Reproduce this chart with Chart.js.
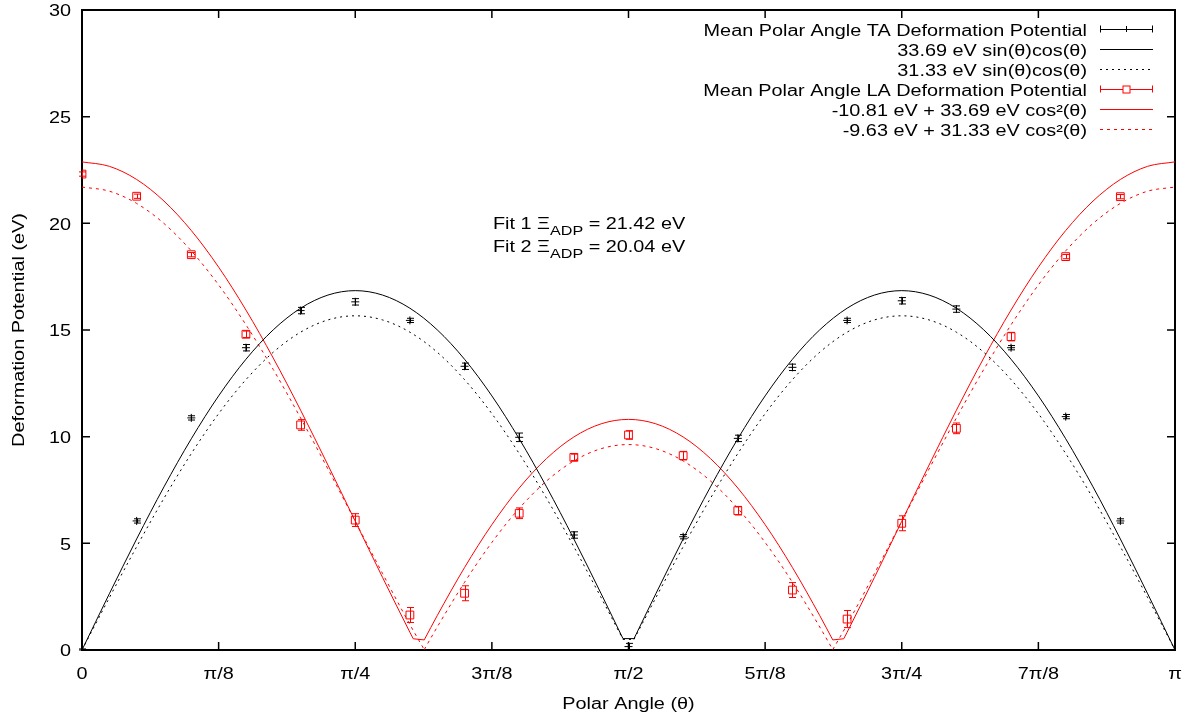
<!DOCTYPE html>
<html>
<head>
<meta charset="utf-8">
<script src="https://cdn.jsdelivr.net/npm/chart.js@4/dist/chart.umd.min.js"></script>
<style>
  html, body { margin: 0; padding: 0; background: #fff; }
  #c { display: block; }
</style>
</head>
<body>
<canvas id="c" width="1194" height="720"></canvas>
<script>
// ---------------- data (angles in degrees, 180 = π) ----------------
const xTickLabels = ['0', 'π/8', 'π/4', '3π/8', 'π/2', '5π/8', '3π/4', '7π/8', 'π'];
const yTickLabels = ['0', '5', '10', '15', '20', '25', '30'];

const dataAngles = [0, 9, 18, 27, 36, 45, 54, 63, 72, 81, 90, 99, 108, 117, 126, 135, 144, 153, 162, 171];
const taMean = [0.00, 6.05, 10.88, 14.17, 15.91, 16.32, 15.45, 13.30, 9.97, 5.39, 0.16, 5.31, 9.92, 13.25, 15.45, 16.37, 15.98, 14.17, 10.94, 6.05];
const taErr  = [0.05, 0.10, 0.10, 0.15, 0.15, 0.15, 0.10, 0.15, 0.20, 0.15, 0.15, 0.10, 0.15, 0.15, 0.10, 0.15, 0.15, 0.10, 0.10, 0.10];
const laMean = [22.31, 21.27, 18.53, 14.80, 10.55, 6.09, 1.64, 2.66, 6.41, 9.03, 10.08, 9.11, 6.53, 2.81, 1.45, 5.94, 10.39, 14.69, 18.44, 21.25];
const laErr  = [0.10, 0.10, 0.10, 0.15, 0.25, 0.30, 0.35, 0.35, 0.25, 0.15, 0.20, 0.20, 0.20, 0.35, 0.40, 0.35, 0.25, 0.20, 0.10, 0.10];

const taFitAngles = [0, 4.5, 9, 13.5, 18, 22.5, 27, 31.5, 36, 40.5, 45, 49.5, 54, 58.5, 63, 67.5, 72, 76.5, 81, 85.5, 89.09, 90.91, 94.5, 99, 103.5, 108, 112.5, 117, 121.5, 126, 130.5, 135, 139.5, 144, 148.5, 153, 157.5, 162, 166.5, 171, 175.5, 180];
const taFit1 = [0, 2.635, 5.205, 7.647, 9.901, 11.911, 13.628, 15.009, 16.021, 16.638, 16.845, 16.638, 16.021, 15.009, 13.628, 11.911, 9.901, 7.647, 5.205, 2.635, 0.534, 0.534, 2.635, 5.205, 7.647, 9.901, 11.911, 13.628, 15.009, 16.021, 16.638, 16.845, 16.638, 16.021, 15.009, 13.628, 11.911, 9.901, 7.647, 5.205, 2.635, 0];
const taFit2 = [0, 2.450, 4.841, 7.112, 9.208, 11.077, 12.673, 13.958, 14.898, 15.472, 15.665, 15.472, 14.898, 13.958, 12.673, 11.077, 9.208, 7.112, 4.841, 2.450, 0.497, 0.497, 2.450, 4.841, 7.112, 9.208, 11.077, 12.673, 13.958, 14.898, 15.472, 15.665, 15.472, 14.898, 13.958, 12.673, 11.077, 9.208, 7.112, 4.841, 2.450, 0];
const taFitCorners = [89.09, 90.91];

const laFit1Angles = [0, 4.5, 9, 13.5, 18, 22.5, 27, 31.5, 36, 40.5, 45, 49.5, 54, 54.55, 56.36, 58.5, 63, 67.5, 72, 76.5, 81, 85.5, 90, 94.5, 99, 103.5, 108, 112.5, 117, 121.5, 123.64, 125.45, 126, 130.5, 135, 139.5, 144, 148.5, 153, 157.5, 162, 166.5, 171, 175.5, 180];
const laFit1 = [22.880, 22.673, 22.056, 21.044, 19.663, 17.946, 15.936, 13.682, 11.240, 8.670, 6.035, 3.400, 0.830, 0.526, 0.473, 1.612, 3.866, 5.876, 7.593, 8.974, 9.986, 10.603, 10.810, 10.603, 9.986, 8.974, 7.593, 5.876, 3.866, 1.612, 0.473, 0.526, 0.830, 3.400, 6.035, 8.670, 11.240, 13.682, 15.936, 17.946, 19.663, 21.044, 22.056, 22.673, 22.880];
const laFit1Corners = [54.55, 56.36, 123.64, 125.45];
const laFit2Angles = [0, 4.5, 9, 13.5, 18, 22.5, 27, 31.5, 36, 40.5, 45, 49.5, 54, 56.36, 58.5, 63, 67.5, 72, 76.5, 81, 85.5, 90, 94.5, 99, 103.5, 108, 112.5, 117, 121.5, 123.64, 126, 130.5, 135, 139.5, 144, 148.5, 153, 157.5, 162, 166.5, 171, 175.5, 180];
const laFit2 = [21.700, 21.507, 20.933, 19.993, 18.708, 17.112, 15.243, 13.147, 10.876, 8.485, 6.035, 3.585, 1.194, 0.017, 1.077, 3.173, 5.042, 6.638, 7.923, 8.863, 9.437, 9.630, 9.437, 8.863, 7.923, 6.638, 5.042, 3.173, 1.077, 0.017, 1.194, 3.585, 6.035, 8.485, 10.876, 13.147, 15.243, 17.112, 18.708, 19.993, 20.933, 21.507, 21.700];
const laFit2Corners = [56.36, 123.64];

const legendLabels = [
  'Mean Polar Angle TA Deformation Potential',
  '33.69 eV sin(θ)cos(θ)',
  '31.33 eV sin(θ)cos(θ)',
  'Mean Polar Angle LA Deformation Potential',
  '-10.81 eV + 33.69 eV cos²(θ)',
  '-9.63 eV + 31.33 eV cos²(θ)'
];
const fitLabels = [['Fit 1 Ξ', 'ADP', ' = 21.42 eV'], ['Fit 2 Ξ', 'ADP', ' = 20.04 eV']];

// ---------------- text stretch (reference glyphs are drawn wide) ----------------
const SX = 1.24;
const origFillText = CanvasRenderingContext2D.prototype.fillText;
CanvasRenderingContext2D.prototype.fillText = function (text, x, y, maxWidth) {
  this.save();
  this.translate(x, y);
  this.scale(SX, 1);
  if (maxWidth === undefined || maxWidth === null) origFillText.call(this, text, 0, 0);
  else origFillText.call(this, text, 0, 0, maxWidth / SX);
  this.restore();
};

const FONT = '"Liberation Sans", Arial, Helvetica, sans-serif';
Chart.defaults.font.family = FONT;
Chart.defaults.font.size = 16;
Chart.defaults.color = '#000';

const RED = '#ff0000';
const BLACK = '#000000';
const pts = (xs, ys) => xs.map((v, i) => ({ x: v, y: ys[i] }));
// curve points; the smooth line is broken (zero-length gap) at sharp corners
function curvePts(xs, ys, corners) {
  const out = [];
  xs.forEach((v, i) => {
    out.push({ x: v, y: ys[i] });
    if (corners.includes(v)) {
      out.push({ x: v, y: null });
      out.push({ x: v, y: ys[i] });
    }
  });
  return out;
}

// ---------------- plugins ----------------
const frameTicks = {
  id: 'frameTicks',
  beforeDatasetsDraw(chart) {
    const { ctx, chartArea: a, scales: { x, y } } = chart;
    ctx.save();
    ctx.strokeStyle = BLACK;
    ctx.lineWidth = 1.5;
    ctx.beginPath();
    x.ticks.forEach((t, i) => {
      const px = x.getPixelForTick(i);
      ctx.moveTo(px, a.bottom); ctx.lineTo(px, a.bottom - 8);
      ctx.moveTo(px, a.top); ctx.lineTo(px, a.top + 8);
    });
    y.ticks.forEach((t, i) => {
      const py = y.getPixelForTick(i);
      ctx.moveTo(a.left, py); ctx.lineTo(a.left + 8, py);
      ctx.moveTo(a.right, py); ctx.lineTo(a.right - 8, py);
    });
    ctx.stroke();
    ctx.lineWidth = 2;
    ctx.strokeRect(a.left, a.top, a.right - a.left, a.bottom - a.top);
    ctx.restore();
  }
};

const errorBars = {
  id: 'errorBars',
  afterDatasetsDraw(chart) {
    const { ctx, scales: { x, y } } = chart;
    ctx.save();
    chart.data.datasets.forEach((ds) => {
      if (!ds.errors) return;
      ctx.strokeStyle = ds.borderColor;
      ctx.lineWidth = 1;
      ctx.beginPath();
      ds.data.forEach((p, i) => {
        const e = ds.errors[i];
        const px = Math.round(x.getPixelForValue(p.x)) + 0.5;
        const yt = y.getPixelForValue(p.y + e);
        const yb = y.getPixelForValue(Math.max(0, p.y - e));
        ctx.moveTo(px, yt); ctx.lineTo(px, yb);
        ctx.moveTo(px - 3.5, yt); ctx.lineTo(px + 3.5, yt);
        ctx.moveTo(px - 3.5, yb); ctx.lineTo(px + 3.5, yb);
      });
      ctx.stroke();
    });
    ctx.restore();
  }
};

const keyAndLabel = {
  id: 'keyAndLabel',
  afterDraw(chart) {
    const { ctx, chartArea: a } = chart;
    ctx.save();
    ctx.font = '16px ' + FONT;
    ctx.textBaseline = 'alphabetic';
    const textRight = a.right - 88;
    const x1 = a.right - 75, x2 = a.right - 22, xm = (x1 + x2) / 2;
    legendLabels.forEach((label, i) => {
      const ds = chart.data.datasets[i];
      const yc = a.top + 19 + 20 * i;
      ctx.fillStyle = BLACK;
      ctx.textAlign = 'right';
      ctx.fillText(label, textRight, yc + 7);
      ctx.strokeStyle = ds.borderColor;
      ctx.lineWidth = 1;
      ctx.setLineDash(ds.borderDash || []);
      ctx.beginPath();
      ctx.moveTo(x1, yc + 0.5); ctx.lineTo(x2, yc + 0.5);
      ctx.stroke();
      ctx.setLineDash([]);
      if (ds.errors) {
        ctx.beginPath();
        ctx.moveTo(x1 + 0.5, yc - 3.5); ctx.lineTo(x1 + 0.5, yc + 3.5);
        ctx.moveTo(x2 - 0.5, yc - 3.5); ctx.lineTo(x2 - 0.5, yc + 3.5);
        if (ds.pointStyle === 'cross') {
          ctx.moveTo(xm, yc - 3); ctx.lineTo(xm, yc + 3);
        }
        ctx.stroke();
        if (ds.pointStyle === 'rect') {
          ctx.fillStyle = '#fff';
          ctx.fillRect(xm - 3.5, yc - 3, 7, 7);
          ctx.strokeRect(xm - 3.5, yc - 3, 7, 7);
        }
      }
    });
    // Fit annotation
    const lx = a.left + 411;
    const baselines = [a.top + 219.3, a.top + 242.3];
    ctx.textAlign = 'left';
    ctx.fillStyle = BLACK;
    fitLabels.forEach((parts, i) => {
      let cx = lx;
      const by = baselines[i];
      ctx.font = '16px ' + FONT;
      ctx.fillText(parts[0], cx, by);
      cx += ctx.measureText(parts[0]).width * SX;
      ctx.font = '13px ' + FONT;
      ctx.fillText(parts[1], cx, by + 6);
      cx += ctx.measureText(parts[1]).width * SX;
      ctx.font = '16px ' + FONT;
      ctx.fillText(parts[2], cx, by);
    });
    ctx.restore();
  }
};

const curveStyle = { borderWidth: 1, pointRadius: 0, cubicInterpolationMode: 'monotone', spanGaps: false };

// ---------------- chart ----------------
new Chart(document.getElementById('c'), {
  type: 'line',
  data: {
    datasets: [
      {
        label: legendLabels[0], data: pts(dataAngles, taMean), errors: taErr,
        showLine: false, pointStyle: 'cross', pointRadius: 4, pointBorderWidth: 1,
        borderColor: BLACK, backgroundColor: BLACK, order: 1
      },
      Object.assign({ label: legendLabels[1], data: curvePts(taFitAngles, taFit1, taFitCorners), borderColor: BLACK, order: 2 }, curveStyle),
      Object.assign({ label: legendLabels[2], data: curvePts(taFitAngles, taFit2, taFitCorners), borderColor: BLACK, borderDash: [2, 4], order: 3 }, curveStyle),
      {
        label: legendLabels[3], data: pts(dataAngles, laMean), errors: laErr,
        showLine: false, pointStyle: 'rect', pointRadius: 5.5, pointBorderWidth: 1,
        borderColor: RED, backgroundColor: 'rgba(0,0,0,0)', order: 0
      },
      Object.assign({ label: legendLabels[4], data: curvePts(laFit1Angles, laFit1, laFit1Corners), borderColor: RED, order: 4 }, curveStyle),
      Object.assign({ label: legendLabels[5], data: curvePts(laFit2Angles, laFit2, laFit2Corners), borderColor: RED, borderDash: [3, 4], order: 5 }, curveStyle)
    ]
  },
  options: {
    responsive: false,
    devicePixelRatio: 1,
    animation: false,
    events: [],
    layout: { padding: { top: 10, right: 19, left: 0, bottom: 0 } },
    plugins: { legend: { display: false }, tooltip: { enabled: false } },
    scales: {
      x: {
        type: 'linear', min: 0, max: 180,
        grid: { display: false, drawTicks: false },
        border: { display: false },
        ticks: {
          stepSize: 22.5, autoSkip: false, maxRotation: 0, padding: 15,
          callback: (v, i) => xTickLabels[i]
        },
        title: { display: true, text: 'Polar Angle (θ)', padding: { top: 0, bottom: 6 } },
        afterFit: (s) => { s.height = 70; s.paddingLeft = 0; s.paddingRight = 0; }
      },
      y: {
        type: 'linear', min: 0, max: 30,
        grid: { display: false, drawTicks: false },
        border: { display: false },
        ticks: { stepSize: 5, padding: 11, labelOffset: 2, callback: (v, i) => yTickLabels[i] },
        title: { display: true, text: 'Deformation Potential (eV)', padding: { top: 10, bottom: 0 } },
        afterFit: (s) => { s.width = 82; s.paddingTop = 0; s.paddingBottom = 0; }
      }
    }
  },
  plugins: [frameTicks, errorBars, keyAndLabel]
});
</script>
</body>
</html>
